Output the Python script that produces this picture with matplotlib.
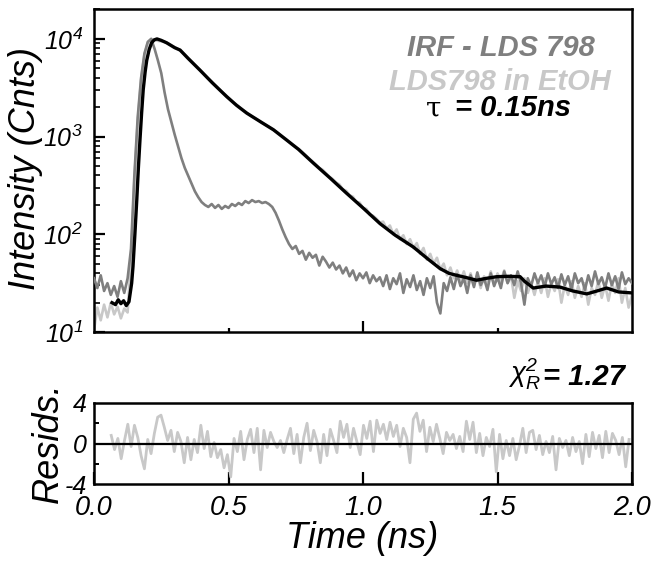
import numpy as np
import matplotlib
matplotlib.use("Agg")
import matplotlib.pyplot as plt
from matplotlib.ticker import FixedLocator, NullFormatter, LogLocator

plt.rcParams['font.family'] = ['Liberation Sans', 'DejaVu Sans']
plt.rcParams['mathtext.fontset'] = 'custom'
plt.rcParams['mathtext.rm'] = 'Liberation Sans:italic'
plt.rcParams['mathtext.it'] = 'Liberation Sans:italic'
plt.rcParams['mathtext.bf'] = 'Liberation Sans:bold:italic'
plt.rcParams['mathtext.default'] = 'rm'

# ---------------- data (log10 of counts) ----------------
# IRF (dark grey), sampled every 0.0125 ns from 0 to 2 ns
irf_log = [1.55, 1.45, 1.58, 1.42, 1.50, 1.38, 1.47, 1.36, 1.52, 1.40,
           1.55, 1.85, 2.60, 3.20, 3.60, 3.85, 3.97, 4.00, 3.90, 3.78,
           3.65, 3.45, 3.28, 3.15, 3.02, 2.90, 2.78, 2.68, 2.60, 2.52,
           2.44, 2.38, 2.33, 2.30, 2.28, 2.31, 2.27, 2.30, 2.26, 2.29,
           2.27, 2.31, 2.29, 2.32, 2.30, 2.34, 2.32, 2.35, 2.33, 2.34,
           2.32, 2.33, 2.31, 2.28, 2.22, 2.14, 2.05, 1.97, 1.90, 1.85,
           1.88, 1.80, 1.83, 1.74, 1.81, 1.76, 1.79, 1.68, 1.77, 1.72,
           1.66, 1.71, 1.64, 1.68, 1.60, 1.66, 1.57, 1.63, 1.53, 1.60,
           1.55, 1.61, 1.50, 1.58, 1.52, 1.56, 1.47, 1.58, 1.44, 1.55,
           1.49, 1.60, 1.40, 1.54, 1.46, 1.58, 1.43, 1.52, 1.38, 1.55,
           1.45, 1.57, 1.30, 1.19, 1.50, 1.42, 1.56, 1.44, 1.59, 1.47,
           1.55, 1.40, 1.58, 1.46, 1.61, 1.48, 1.55, 1.43, 1.60, 1.47,
           1.56, 1.45, 1.62, 1.50, 1.58, 1.48, 1.62, 1.50, 1.28, 1.55,
           1.47, 1.60, 1.50, 1.58, 1.46, 1.60, 1.49, 1.56, 1.45, 1.59,
           1.48, 1.57, 1.44, 1.60, 1.50, 1.55, 1.43, 1.58, 1.47, 1.62,
           1.49, 1.56, 1.45, 1.60, 1.48, 1.57, 1.44, 1.61, 1.49, 1.55,
           1.50]

# LDS798 in EtOH decay (light grey), same sampling
lds_log = [1.02, 1.25, 1.12, 1.28, 1.15, 1.30, 1.18, 1.26, 1.14, 1.24,
           1.20, 1.75, 2.55, 3.15, 3.58, 3.84, 3.96, 4.00, 3.99, 3.98,
           3.975, 3.97, 3.955, 3.935, 3.915, 3.895, 3.87, 3.84, 3.805, 3.77,
           3.735, 3.70, 3.665, 3.63, 3.595, 3.565, 3.53, 3.495, 3.46, 3.43,
           3.395, 3.365, 3.335, 3.31, 3.28, 3.255, 3.23, 3.205, 3.185, 3.165,
           3.14, 3.12, 3.10, 3.08, 3.055, 3.03, 3.00, 2.975, 2.945, 2.915,
           2.89, 2.87, 2.84, 2.81, 2.775, 2.745, 2.715, 2.68, 2.66, 2.625,
           2.59, 2.565, 2.53, 2.51, 2.46, 2.445, 2.40, 2.385, 2.33, 2.325,
           2.27, 2.26, 2.20, 2.19, 2.16, 2.12, 2.13, 2.06, 2.09, 2.00,
           2.05, 1.95, 1.99, 1.90, 1.95, 1.86, 1.91, 1.80, 1.86, 1.74,
           1.80, 1.70, 1.76, 1.64, 1.70, 1.58, 1.66, 1.55, 1.63, 1.52,
           1.62, 1.50, 1.60, 1.48, 1.58, 1.45, 1.57, 1.50, 1.62, 1.48,
           1.60, 1.52, 1.63, 1.50, 1.58, 1.35, 1.52, 1.42, 1.55, 1.40,
           1.50, 1.38, 1.52, 1.40, 1.55, 1.36, 1.50, 1.42, 1.54, 1.30,
           1.48, 1.38, 1.52, 1.35, 1.47, 1.36, 1.50, 1.28, 1.45, 1.38,
           1.52, 1.35, 1.48, 1.32, 1.50, 1.40, 1.55, 1.30, 1.45, 1.25,
           1.38]

# Fit (black): time (ns) and log10 counts
fit_t = [0.067, 0.08, 0.09, 0.10, 0.11, 0.12, 0.13, 0.14, 0.145, 0.152,
         0.159, 0.165, 0.171, 0.177, 0.183, 0.19, 0.196, 0.205, 0.214, 0.224,
         0.234, 0.25, 0.27, 0.30, 0.32, 0.35, 0.394, 0.44, 0.493, 0.53,
         0.568, 0.62, 0.667, 0.716, 0.76, 0.815, 0.88, 0.939, 1.0, 1.063,
         1.12, 1.187, 1.24, 1.286, 1.32, 1.348, 1.38, 1.422, 1.46, 1.497,
         1.54, 1.584, 1.60, 1.633, 1.68, 1.732, 1.78, 1.832, 1.87, 1.906,
         1.95, 2.0]
fit_log = [1.30, 1.28, 1.33, 1.29, 1.32, 1.27, 1.31, 1.50, 1.67, 2.00,
           2.35, 2.68, 2.97, 3.24, 3.48, 3.66, 3.78, 3.89, 3.96, 3.99,
           4.00, 3.985, 3.96, 3.91, 3.886, 3.80, 3.68, 3.55, 3.41, 3.32,
           3.24, 3.15, 3.07, 2.965, 2.87, 2.73, 2.57, 2.42, 2.27, 2.11,
           1.99, 1.87, 1.75, 1.65, 1.60, 1.58, 1.56, 1.53, 1.55, 1.566,
           1.57, 1.566, 1.52, 1.45, 1.47, 1.46, 1.42, 1.39, 1.42, 1.45,
           1.41, 1.40]

# Weighted residuals (light grey)
resid = [0.8, -0.6, 0.5, -1.5, 0.3, 1.9, -0.3, 1.8, 0.6, -1.2,
         -2.5, 0.4, -1.0, 1.0, 2.6, 2.8, 1.6, 0.3, 1.3, -0.8,
         1.1, 0.2, -1.9, 0.6, -1.6, 0.4, -0.9, 1.8, -0.5, 1.2,
         -1.3, 0.1, -1.4, -0.6, -2.4, -1.1, -3.3, 0.5, -0.8, 1.2,
         -1.6, 0.4, 1.4, -0.9, 1.5, -2.6, 1.3, -0.4, 1.1, 0.2,
         -0.4, 0.3, -0.9, 0.4, 1.5, -1.0, 0.9, -1.9, 0.6, 2.0,
         -0.7, 1.3, 0.2, -1.9, 0.9, -1.2, 1.4, 0.3, -0.9, 2.2,
         0.6, 1.9, -0.4, 1.5, 0.2, -1.1, 1.8, 0.5, 2.2, -0.8,
         2.3, 1.0, 1.9, 0.4, 2.1, 0.7, 1.8, -0.3, 1.5, 0.6,
         -1.9, 2.4, 3.0, 1.2, 2.3, -0.8, 1.6, 0.2, 1.9, 0.5,
         -1.0, 1.1, 0.3, 0.9,
         -0.5, 0.7, -0.8, 2.2, 0.4, 2.1, -0.9, 1.0, -1.2, 0.6,
         -0.3, 1.4, -2.8, 0.9, -1.5, 0.3, -1.2, 0.5, -1.6, -0.2,
         1.5, -0.9, 1.1, 1.3, -0.6, 0.8, -1.1, 0.2, -0.9, 0.7,
         -2.6, 0.5, -0.4, 0.3, -1.2, 0.6, -0.8, 0.2, -2.0, 0.9,
         -1.3, 1.1, -0.5, 0.8, -1.4, 1.2, -0.9, 1.0, 0.3, -1.1,
         0.6, -2.3, 0.4]

x_ticklabels = ['0.0', '0.5', '1.0', '1.5', '2.0']
legend_irf = 'IRF - LDS 798'
legend_lds = 'LDS798 in EtOH'
tau_text = '= 0.15ns'
chi_text = '= 1.27'

# ---------------- figure ----------------
W, H = 663, 563
fig = plt.figure(figsize=(W / 100, H / 100), dpi=100)

def fx(x):
    return x / W

def fy(y):
    return 1 - y / H

L, R = 94, 632
ax1 = fig.add_axes([fx(L), fy(332), (R - L) / W, (332 - 9) / H])
ax2 = fig.add_axes([fx(L), fy(484), (R - L) / W, (484 - 403) / H])

DARK = '#7f7f7f'
LIGHT = '#c8c8c8'

t_grid = np.linspace(0.0, 2.0, len(irf_log))
t_grid2 = np.linspace(0.0, 2.0, len(lds_log))
ax1.plot(t_grid2, 10 ** np.array(lds_log), color=LIGHT, lw=1.9, zorder=2)
ax1.plot(t_grid, 10 ** np.array(irf_log), color=DARK, lw=1.9, zorder=3)
ax1.plot(fit_t, 10 ** np.array(fit_log), color='black', lw=2.4, zorder=4)

ax1.set_yscale('log')
ax1.set_xlim(0, 2)
ax1.set_ylim(10, 10 ** 4.306)
ax1.xaxis.set_major_locator(FixedLocator([1.0]))
ax1.xaxis.set_minor_locator(FixedLocator([0.5, 1.5]))
ax1.xaxis.set_major_formatter(NullFormatter())
ax1.yaxis.set_major_locator(FixedLocator([10, 100, 1000, 10000]))
ax1.yaxis.set_minor_locator(LogLocator(base=10, subs=np.arange(2, 10)))
ax1.yaxis.set_minor_formatter(NullFormatter())
ax1.set_yticklabels([r'$10^{1}$', r'$10^{2}$', r'$10^{3}$', r'$10^{4}$'])
ax1.tick_params(axis='y', which='major', direction='in', length=8, width=1.6,
                labelsize=18, pad=8)
ax1.tick_params(axis='y', which='minor', direction='in', length=4, width=1.2)
ax1.tick_params(axis='x', which='major', direction='in', length=8, width=1.6)
ax1.tick_params(axis='x', which='minor', direction='in', length=3, width=1.6)

rt = np.linspace(0.064, 1.989, len(resid))
ax2.plot(rt, resid, color=LIGHT, lw=2.0, zorder=2)
ax2.axhline(0, color='black', lw=1.6, zorder=3)
ax2.set_xlim(0, 2)
ax2.set_ylim(-4, 4)
ax2.set_xticks([0.0, 0.5, 1.0, 1.5, 2.0])
ax2.set_xticklabels(x_ticklabels, fontstyle='italic')
ax2.set_yticks([-4, 0, 4])
ax2.set_yticklabels(['-4', '0', '4'], fontstyle='italic')
ax2.yaxis.set_minor_locator(FixedLocator([-2, 2]))
ax2.tick_params(axis='x', which='major', direction='in', length=9, width=1.6,
                labelsize=19.5, pad=8)
ax2.tick_params(axis='y', which='major', direction='in', length=0, width=1.6,
                labelsize=18, pad=5)
ax2.tick_params(axis='y', which='minor', direction='in', length=3.5, width=1.4)

for ax in (ax1, ax2):
    for s in ax.spines.values():
        s.set_linewidth(1.8)

# axis labels
fig.text(fx(26), fy(168), 'Intensity (Cnts)', rotation=90, ha='center',
         va='center', fontsize=26, fontstyle='italic')
fig.text(fx(48), fy(443), 'Resids.', rotation=90, ha='center', va='center',
         fontsize=26, fontstyle='italic')
fig.text(fx(362), fy(538), 'Time (ns)', ha='center', va='center',
         fontsize=26, fontstyle='italic')

# legend texts
fig.text(fx(501), fy(48), legend_irf, ha='center', va='center', fontsize=21,
         fontweight='bold', fontstyle='italic', color=DARK)
fig.text(fx(500), fy(82), legend_lds, ha='center', va='center', fontsize=21,
         fontweight='bold', fontstyle='italic', color=LIGHT)
fig.text(fx(433), fy(110), r'$\tau$', ha='center', va='center', fontsize=20,
         math_fontfamily='dejavuserif')
fig.text(fx(455), fy(108), tau_text, ha='left', va='center', fontsize=21,
         fontweight='bold', fontstyle='italic')

fig.text(fx(541), fy(374), r'$\chi^{2}_{R}$', ha='right', va='center',
         fontsize=20)
fig.text(fx(543), fy(377), chi_text, ha='left', va='center', fontsize=21,
         fontweight='bold', fontstyle='italic')

fig.savefig('out.png', dpi=100)
